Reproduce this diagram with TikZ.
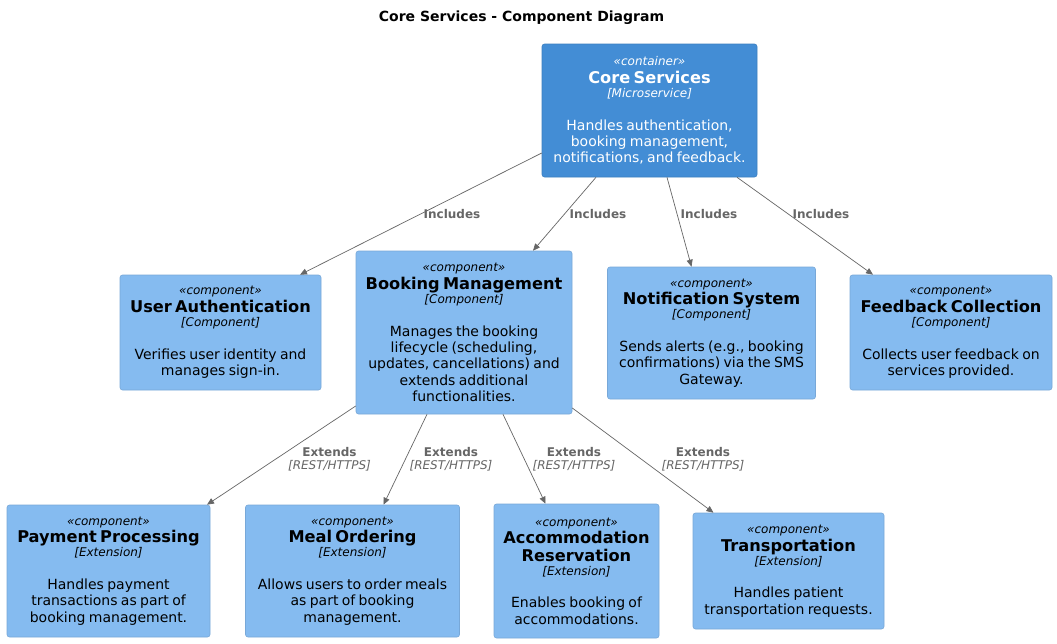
\documentclass[tikz,border=0pt]{standalone}
\usepackage{fontspec}
\setmainfont{DejaVu Sans}
\usetikzlibrary{arrows.meta}
\definecolor{contfill}{HTML}{438DD5}
\definecolor{contline}{HTML}{3C7FC0}
\definecolor{compfill}{HTML}{85BBF0}
\definecolor{compline}{HTML}{78A8D8}
\definecolor{edgecol}{HTML}{666666}
\setlength\parindent{0pt}
\newcommand\cbody[4]{%
{\fontsize{12}{14}\itshape #1\par}%
{\fontsize{16.2}{17.6}\bfseries #2\par}%
{\fontsize{12}{14}\itshape #3\par}%
\vspace{16.4pt}%
{\fontsize{14}{16.3}\selectfont #4\par}}
\begin{document}
\begin{tikzpicture}[x=1pt,y=-1pt,
  box/.style={rectangle, rounded corners=2.5pt, inner sep=0pt, align=center, line width=0.6pt},
  container/.style={box, fill=contfill, draw=contline, text=white},
  component/.style={box, fill=compfill, draw=compline, text=black},
  edge/.style={draw=edgecol, line width=0.7pt, -{Triangle[length=7pt,width=6pt]}},
  lbl/.style={text=edgecol, inner sep=0pt, align=center, font=\fontsize{12}{13}\selectfont},
  ttl/.style={inner sep=0pt, font=\fontsize{14}{16}\bfseries}]
\useasboundingbox (0,0) rectangle (1057,643);
\fill[white] (0,0) rectangle (1057,643);
\node[ttl] (title) at (521.5,18) {Core Services - Component Diagram};

\node[container, minimum width=215pt, minimum height=133pt, text width=213pt] (core) at (649.5,110.5)
  {\cbody{«container»}{Core Services}{[Microservice]}{Handles authentication,\\booking management,\\notifications, and feedback.}};

\node[component, minimum width=201pt, minimum height=115pt, text width=199pt] (ua) at (220.5,332.5)
  {\cbody{«component»}{User Authentication}{[Component]}{Verifies user identity and\\manages sign-in.}};
\node[component, minimum width=216pt, minimum height=163pt, text width=214pt] (bm) at (464,332.5)
  {\cbody{«component»}{Booking Management}{[Component]}{Manages the booking\\lifecycle (scheduling,\\updates, cancellations) and\\extends additional\\functionalities.}};
\node[component, minimum width=208pt, minimum height=132pt, text width=206pt] (ns) at (711.5,333)
  {\cbody{«component»}{Notification System}{[Component]}{Sends alerts (e.g., booking\\confirmations) via the SMS\\Gateway.}};
\node[component, minimum width=202pt, minimum height=115pt, text width=200pt] (fc) at (951,332.5)
  {\cbody{«component»}{Feedback Collection}{[Component]}{Collects user feedback on\\services provided.}};

\node[component, minimum width=203pt, minimum height=132pt, text width=201pt] (pp) at (108.5,571)
  {\cbody{«component»}{Payment Processing}{[Extension]}{Handles payment\\transactions as part of\\booking management.}};
\node[component, minimum width=214pt, minimum height=132pt, text width=212pt] (mo) at (352.5,571)
  {\cbody{«component»}{Meal Ordering}{[Extension]}{Allows users to order meals\\as part of booking\\management.}};
\node[component, minimum width=165pt, minimum height=134pt, text width=163pt] (ar) at (576.5,571)
  {\cbody{«component»}{Accommodation\\Reservation}{[Extension]}{Enables booking of\\accommodations.}};
\node[component, minimum width=191pt, minimum height=116pt, text width=189pt] (tr) at (788.5,571)
  {\cbody{«component»}{Transportation}{[Extension]}{Handles patient\\transportation requests.}};

\draw[edge] ([yshift=-42.5pt]core.west) -- ([xshift=79.5pt]ua.north);
\draw[edge] ([xshift=-53.5pt]core.south) -- ([xshift=69pt]bm.north);
\draw[edge] ([xshift=17.5pt]core.south) -- ([xshift=-20pt]ns.north);
\draw[edge] ([xshift=87.5pt]core.south) -- ([xshift=-78pt]fc.north);

\draw[edge] ([yshift=-73.5pt]bm.west) -- ([xshift=98.5pt]pp.north);
\draw[edge] ([xshift=-37pt]bm.south) -- ([xshift=31pt]mo.north);
\draw[edge] ([xshift=39pt]bm.south) -- ([xshift=-31pt]ar.north);
\draw[edge] ([yshift=-75.5pt]bm.east) -- ([xshift=-75pt]tr.north);

\node[lbl] (l1) at (452,214) {\bfseries Includes};
\node[lbl] (l2) at (598,214) {\bfseries Includes};
\node[lbl] (l3) at (709,214) {\bfseries Includes};
\node[lbl] (l4) at (821,214) {\bfseries Includes};

\node[lbl] (l5) at (329.5,459.5) {{\bfseries Extends}\\{\itshape [REST/HTTPS]}};
\node[lbl] (l6) at (451,459.5) {{\bfseries Extends}\\{\itshape [REST/HTTPS]}};
\node[lbl] (l7) at (574,459.5) {{\bfseries Extends}\\{\itshape [REST/HTTPS]}};
\node[lbl] (l8) at (703,459.5) {{\bfseries Extends}\\{\itshape [REST/HTTPS]}};
\end{tikzpicture}
\end{document}
